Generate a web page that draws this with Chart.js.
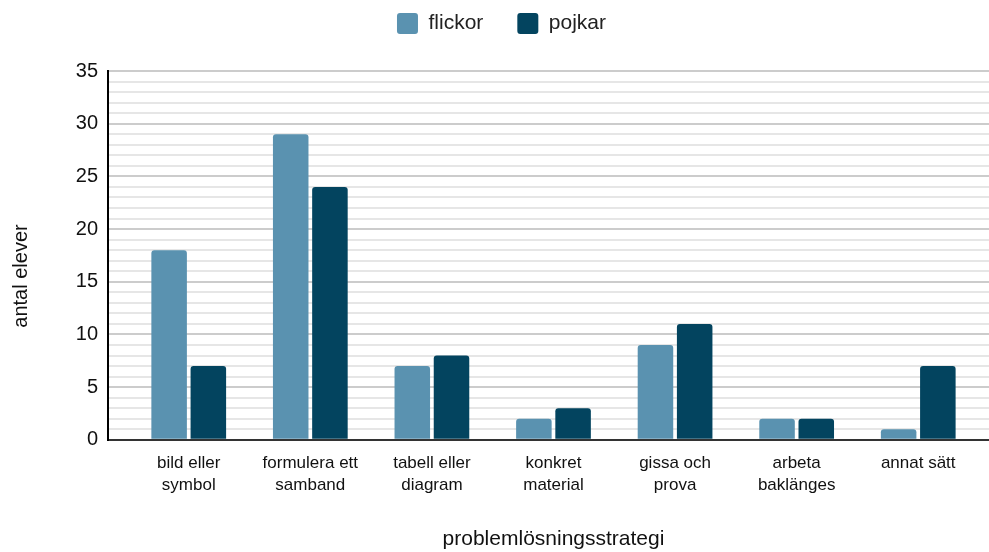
<!DOCTYPE html>
<html>
<head>
<meta charset="utf-8">
<script src="https://cdn.jsdelivr.net/npm/chart.js@4"></script>
<style>
  html, body { margin: 0; padding: 0; background: #ffffff; }
  #wrap { width: 989px; height: 552px; }
</style>
</head>
<body>
<div id="wrap"><canvas id="c" width="989" height="552"></canvas></div>
<script>
// Problemlösningsstrategier per kön
const categories = [
  ["bild eller", "symbol"],
  ["formulera ett", "samband"],
  ["tabell eller", "diagram"],
  ["konkret", "material"],
  ["gissa och", "prova"],
  ["arbeta", "baklänges"],
  ["annat sätt"]
];
const flickor = [18, 29, 7, 2, 9, 2, 1];
const pojkar = [7, 24, 8, 3, 11, 2, 7];
const seriesNames = ["flickor", "pojkar"];
const yTitle = "antal elever";
const xTitle = "problemlösningsstrategi";

const FONT = "'Liberation Sans', Arial, sans-serif";
const TEXT = "#111111";

// categories sit on a numeric axis so the plot can keep some space at both ends
const toPoints = (arr) => arr.map((v, i) => ({ x: i, y: v }));

// extra space under the legend
const legendSpacing = {
  id: "legendSpacing",
  beforeInit(chart) {
    const fit = chart.legend.fit;
    chart.legend.fit = function () {
      fit.call(this);
      this.height = 92;
    };
  }
};

// axis titles: y title centred on the canvas height, x title under the category span
const axisTitles = {
  id: "axisTitles",
  afterDraw(chart) {
    const ctx = chart.ctx;
    const xs = chart.scales.x;
    ctx.save();
    ctx.fillStyle = TEXT;
    ctx.textAlign = "center";
    ctx.textBaseline = "middle";
    ctx.font = "20px " + FONT;
    ctx.translate(21, chart.height / 2);
    ctx.rotate(-Math.PI / 2);
    ctx.fillText(yTitle, 0, 0);
    ctx.restore();

    ctx.save();
    ctx.fillStyle = TEXT;
    ctx.textAlign = "center";
    ctx.textBaseline = "middle";
    ctx.font = "21px " + FONT;
    const cx = (xs.getPixelForValue(0) + xs.getPixelForValue(categories.length - 1)) / 2;
    ctx.fillText(xTitle, cx, chart.height - 13);
    ctx.restore();
  }
};

new Chart(document.getElementById("c"), {
  type: "bar",
  data: {
    datasets: [
      { label: seriesNames[0], data: toPoints(flickor), backgroundColor: "#5a92b0" },
      { label: seriesNames[1], data: toPoints(pojkar), backgroundColor: "#03445f" }
    ]
  },
  plugins: [legendSpacing, axisTitles],
  options: {
    responsive: false,
    animation: false,
    layout: { padding: { left: 14, right: 0, top: -21, bottom: 44 } },
    datasets: {
      bar: {
        categoryPercentage: 0.645,
        barPercentage: 0.906,
        borderRadius: { topLeft: 3, topRight: 3 },
        borderSkipped: "bottom"
      }
    },
    plugins: {
      legend: {
        position: "top",
        labels: {
          font: { family: FONT, size: 21 },
          color: "#222222",
          boxWidth: 21,
          boxHeight: 21,
          useBorderRadius: true,
          borderRadius: 3,
          padding: 34
        }
      },
      tooltip: { enabled: false }
    },
    scales: {
      x: {
        type: "linear",
        offset: false,
        min: -0.664,
        max: 6.582,
        grid: { display: false, drawTicks: false, offset: false },
        border: { color: "#333333", width: 2 },
        ticks: {
          stepSize: 1,
          includeBounds: false,
          autoSkip: false,
          maxRotation: 0,
          font: { family: FONT, size: 17, lineHeight: 1.3 },
          color: TEXT,
          padding: 12,
          callback: (v) => (Number.isInteger(v) && categories[v]) ? categories[v] : ""
        }
      },
      y: {
        min: 0,
        max: 35,
        afterFit: (scale) => { scale.width = 94; },
        grid: {
          drawTicks: false,
          color: (ctx) => (ctx.tick && ctx.tick.value % 5 === 0) ? "#cccccc" : "#e6e6e6",
          lineWidth: 2
        },
        border: { color: "#000000", width: 2 },
        ticks: {
          stepSize: 1,
          autoSkip: false,
          font: { family: FONT, size: 20 },
          color: TEXT,
          padding: 10,
          callback: (v) => (v % 5 === 0 ? v : "")
        }
      }
    }
  }
});
</script>
</body>
</html>
